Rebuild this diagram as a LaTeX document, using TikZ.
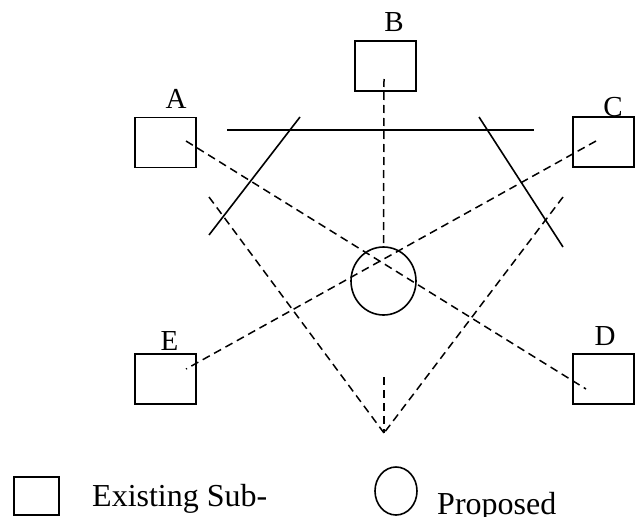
\documentclass[tikz,border=0pt]{standalone}
\usepackage{fontspec}
\setmainfont{Liberation Serif}
\usetikzlibrary{shapes.geometric}
\begin{document}
\begin{tikzpicture}[x=1pt,y=-1pt,
  sub/.style={draw,line width=1.6pt,minimum width=61pt,minimum height=50pt,inner sep=0pt,outer sep=0pt},
  prop/.style={draw,ellipse,line width=1.6pt,minimum width=65pt,minimum height=68pt,inner sep=0pt,outer sep=0pt},
  lab/.style={anchor=base,inner sep=0pt,font=\fontsize{29}{30}\selectfont},
  leg/.style={anchor=base west,inner sep=0pt,font=\fontsize{32}{34}\selectfont},
  dline/.style={line width=1.5pt,dash pattern=on 8pt off 5pt},
  sline/.style={line width=1.6pt}]
\useasboundingbox (0,0) rectangle (636,516);
% boxes
\node[sub] (A) at (165.5,142.5) {};
\node[sub] (B) at (385.5,66) {};
\node[sub] (C) at (603.5,142) {};
\node[sub] (D) at (603.5,379) {};
\node[sub] (E) at (165.5,379) {};
\node[prop] (P) at (383.5,281) {};
% labels
\node[lab] (la) at (176,108) {A};
\node[lab] (lb) at (394,32) {B};
\node[lab] (lc) at (613,117) {C};
\node[lab] (ld) at (605,345) {D};
\node[lab] (le) at (169.5,350) {E};
% connector end points
\coordinate (a1) at (186,141);
\coordinate (b1) at (384,79);
\coordinate (c1) at (596,141);
\coordinate (d1) at (586,389);
\coordinate (e1) at (186,369);
\coordinate (v0) at (384,377);
\coordinate (vl) at (209,197);
\coordinate (vr) at (563,197);
\coordinate (ap) at (384,433);
% dashed connectors
\draw[dline] (a1) -- (d1);
\draw[dline] (c1) -- (e1);
\draw[dline] (b1) -- (P.north);
\draw[dline] (vl) -- (ap);
\draw[dline] (vr) -- (ap);
\draw[dline] (v0) -- (ap);
% solid lines
\coordinate (h1) at (227,130);
\coordinate (h2) at (534,130);
\coordinate (l1) at (300,117);
\coordinate (l2) at (209,235);
\coordinate (r1) at (479,117);
\coordinate (r2) at (563,247);
\draw[sline] (h1) -- (h2);
\draw[sline] (l1) -- (l2);
\draw[sline] (r1) -- (r2);
% legend
\node[draw,line width=1.6pt,minimum width=45pt,minimum height=38pt,inner sep=0pt,outer sep=0pt] (ls) at (36.5,496) {};
\node[leg] (lst) at (92,506) {Existing Sub-};
\node[draw,ellipse,line width=1.6pt,minimum width=42pt,minimum height=48pt,inner sep=0pt,outer sep=0pt] (lp) at (396,491) {};
\node[leg] (lpt) at (437,514) {Proposed};
\end{tikzpicture}
\end{document}
